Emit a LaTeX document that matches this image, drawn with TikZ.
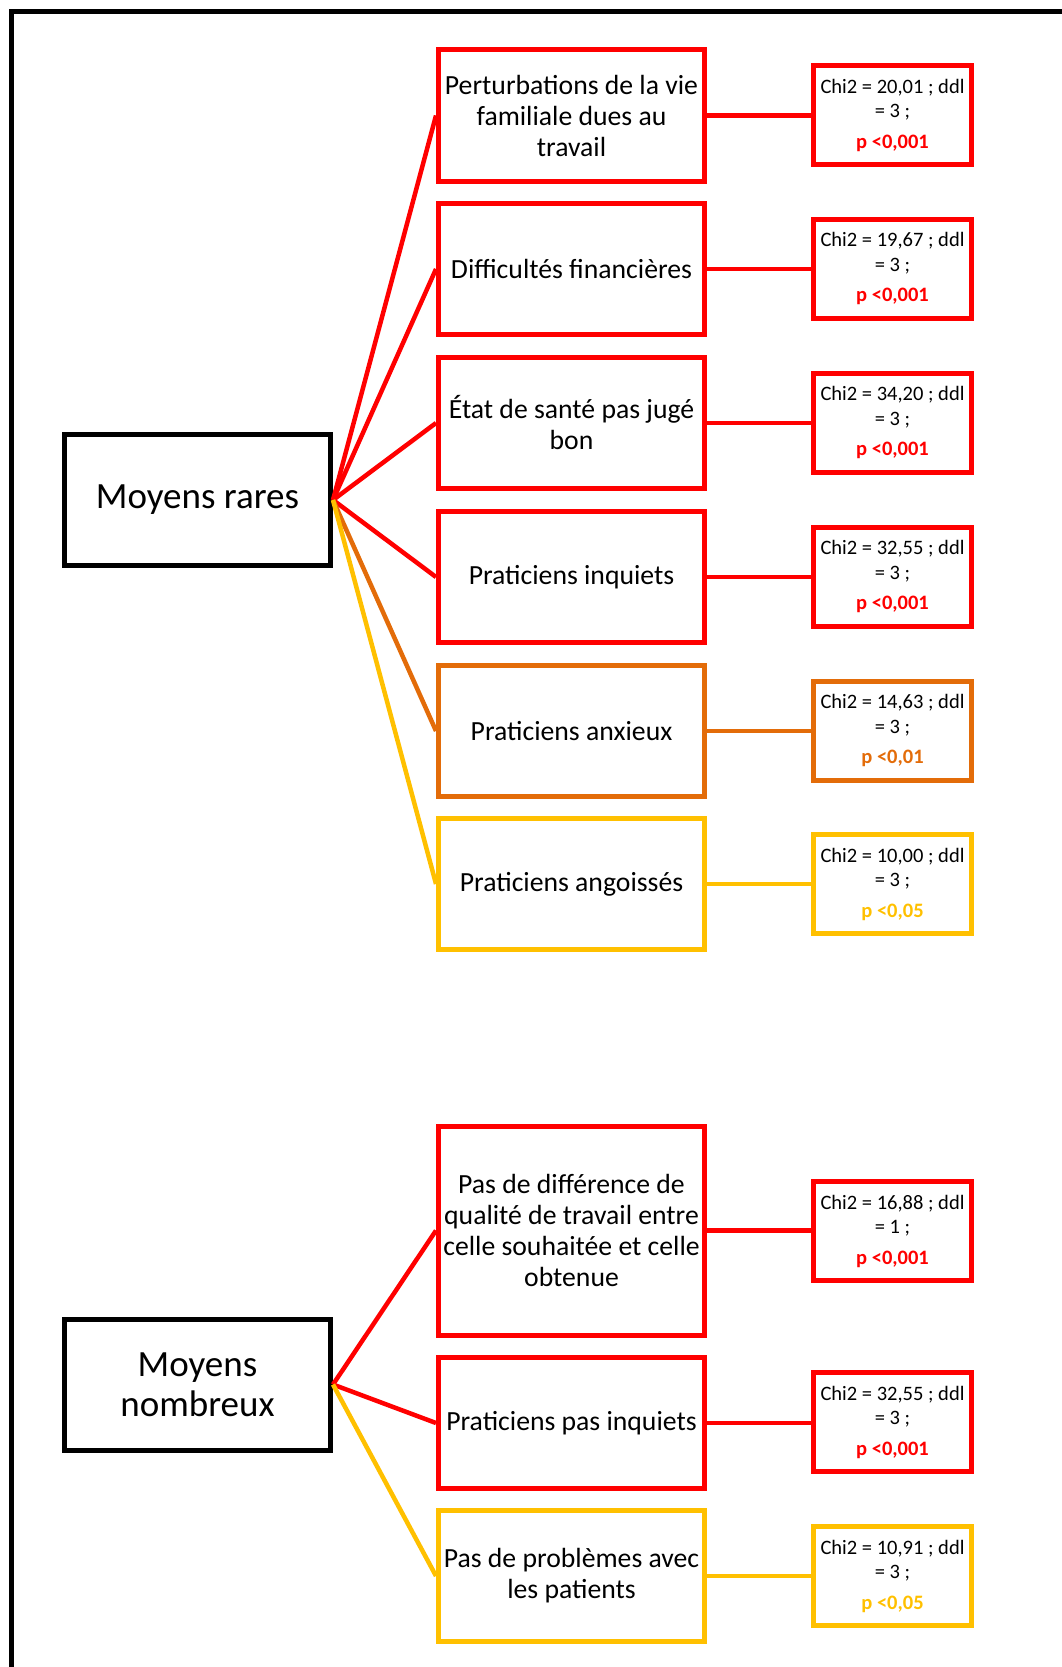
\documentclass[tikz,border=0pt]{standalone}
\usepackage{fontspec}
\setmainfont{Carlito}
\definecolor{cred}{HTML}{FF0000}
\definecolor{corange}{HTML}{E36C09}
\definecolor{cyellow}{HTML}{FFC000}
\begin{document}
\begin{tikzpicture}[x=1pt,y=-1pt,
  mainbox/.style={draw=black,line width=5pt,minimum width=266pt,minimum height=131pt,inner sep=0pt,align=center,font=\fontsize{37}{40.5}\selectfont},
  midbox/.style={draw=#1,line width=5pt,minimum width=266pt,minimum height=131pt,inner sep=0pt,align=center,font=\fontsize{27.7}{31}\selectfont},
  statbox/.style={draw=#1,line width=5pt,minimum width=158pt,minimum height=99pt,inner sep=0pt,align=center,font=\fontsize{20.5}{24.5}\selectfont},
  link/.style={draw=#1,line width=4.5pt}]
\useasboundingbox (0,0) rectangle (1062,1667);
\draw[line width=5pt,line cap=rect] (11,1667) -- (11,12) -- (1062,12);
\newcommand{\pval}[2]{\\[6pt]{\bfseries\color{#1}#2}}

\node[mainbox] (rares) at (197.5,500) {\raisebox{-3pt}{Moyens rares}};
\node[mainbox] (nomb) at (197.5,1384.5) {Moyens\\nombreux};

\node[midbox=cred] (m1) at (571.5,115.5) {Perturbations de la vie\\familiale dues au\\travail};
\node[midbox=cred] (m2) at (571.5,269) {Difficultés financières};
\node[midbox=cred] (m3) at (571.5,423) {État de santé pas jugé\\bon};
\node[midbox=cred] (m4) at (571.5,577) {Praticiens inquiets};
\node[midbox=corange] (m5) at (571.5,731) {Praticiens anxieux};
\node[midbox=cyellow] (m6) at (571.5,884) {Praticiens angoissés};
\node[midbox=cred,minimum height=209pt] (m7) at (571.5,1230.5) {Pas de différence de\\qualité de travail entre\\celle souhaitée et celle\\obtenue};
\node[midbox=cred] (m8) at (571.5,1423) {Praticiens pas inquiets};
\node[midbox=cyellow] (m9) at (571.5,1576) {Pas de problèmes avec\\les patients};

\node[statbox=cred] (s1) at (892.5,115) {Chi2 = 20,01 ; ddl\\= 3 ;\pval{cred}{p <0,001}};
\node[statbox=cred] (s2) at (892.5,268.5) {Chi2 = 19,67 ; ddl\\= 3 ;\pval{cred}{p <0,001}};
\node[statbox=cred] (s3) at (892.5,422.5) {Chi2 = 34,20 ; ddl\\= 3 ;\pval{cred}{p <0,001}};
\node[statbox=cred] (s4) at (892.5,576.5) {Chi2 = 32,55 ; ddl\\= 3 ;\pval{cred}{p <0,001}};
\node[statbox=corange] (s5) at (892.5,730.5) {Chi2 = 14,63 ; ddl\\= 3 ;\pval{corange}{p <0,01}};
\node[statbox=cyellow] (s6) at (892.5,884) {Chi2 = 10,00 ; ddl\\= 3 ;\pval{cyellow}{p <0,05}};
\node[statbox=cred] (s7) at (892.5,1231) {Chi2 = 16,88 ; ddl\\= 1 ;\pval{cred}{p <0,001}};
\node[statbox=cred] (s8) at (892.5,1422) {Chi2 = 32,55 ; ddl\\= 3 ;\pval{cred}{p <0,001}};
\node[statbox=cyellow] (s9) at (892.5,1576) {Chi2 = 10,91 ; ddl\\= 3 ;\pval{cyellow}{p <0,05}};

\draw[link=cred] (rares.east) -- (m1.west);
\draw[link=cred] (rares.east) -- (m2.west);
\draw[link=cred] (rares.east) -- (m3.west);
\draw[link=cred] (rares.east) -- (m4.west);
\draw[link=corange] (rares.east) -- (m5.west);
\draw[link=cyellow] (rares.east) -- (m6.west);
\draw[link=cred] (nomb.east) -- (m7.west);
\draw[link=cred] (nomb.east) -- (m8.west);
\draw[link=cyellow] (nomb.east) -- (m9.west);

\draw[link=cred] (m1.east) -- (s1.west |- m1.east);
\draw[link=cred] (m2.east) -- (s2.west |- m2.east);
\draw[link=cred] (m3.east) -- (s3.west |- m3.east);
\draw[link=cred] (m4.east) -- (s4.west |- m4.east);
\draw[link=corange] (m5.east) -- (s5.west |- m5.east);
\draw[link=cyellow] (m6.east) -- (s6.west |- m6.east);
\draw[link=cred] (m7.east) -- (s7.west |- m7.east);
\draw[link=cred] (m8.east) -- (s8.west |- m8.east);
\draw[link=cyellow] (m9.east) -- (s9.west |- m9.east);
\end{tikzpicture}
\end{document}
